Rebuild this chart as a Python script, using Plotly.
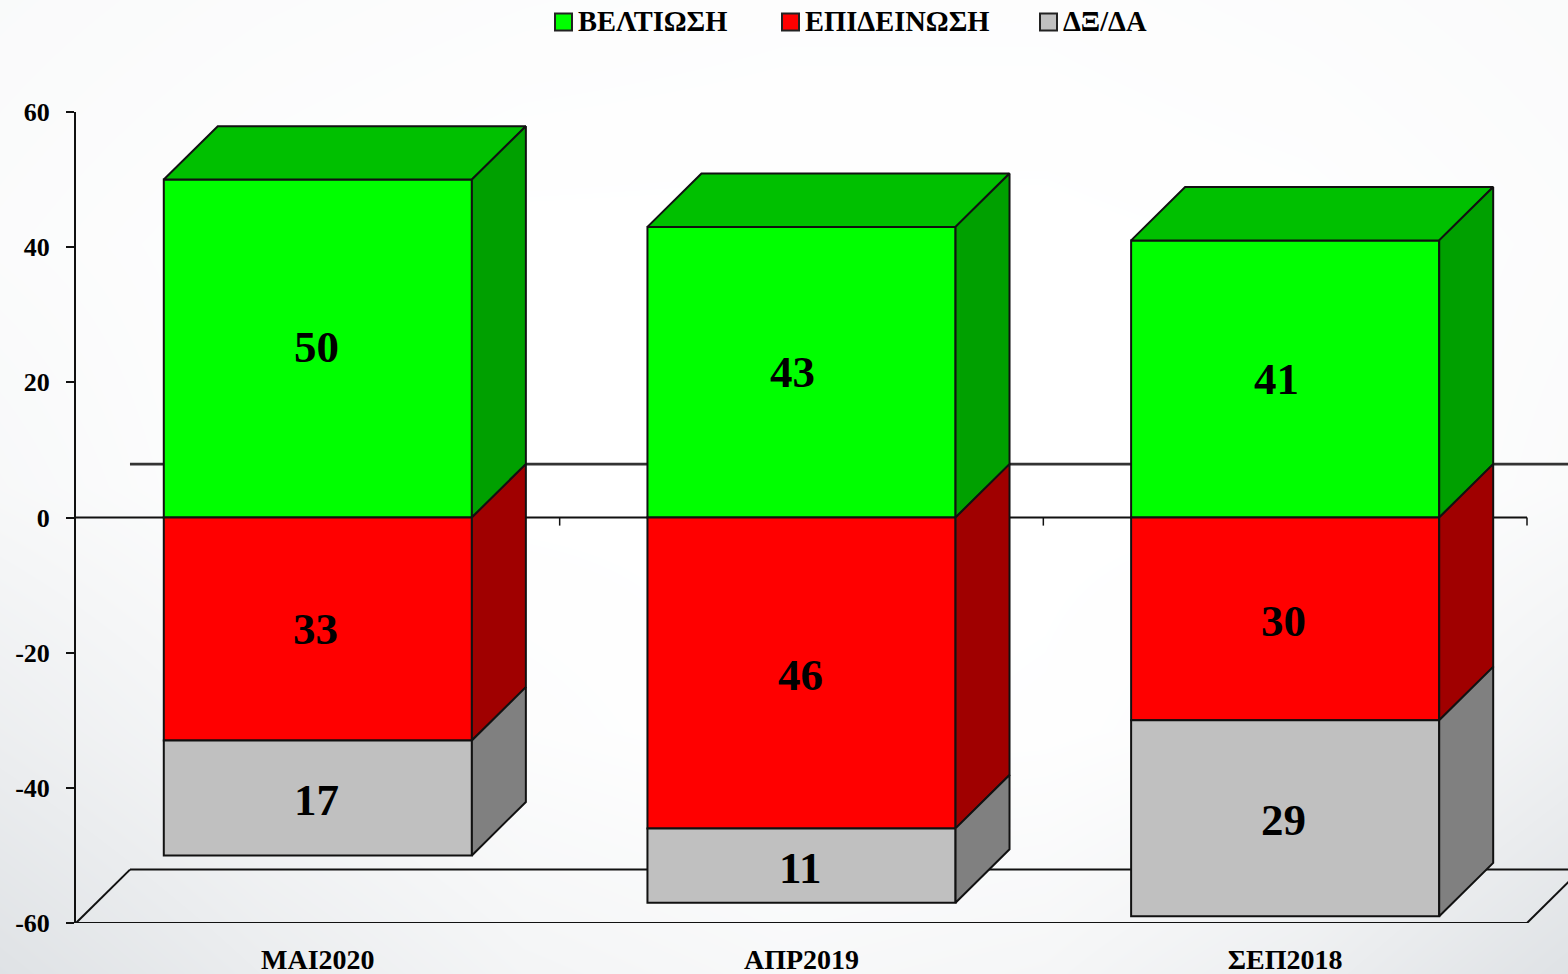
import plotly.graph_objects as go

W, H = 1568, 974
categories = ["ΜΑΙ2020", "ΑΠΡ2019", "ΣΕΠ2018"]
improve = [50, 43, 41]
worse = [33, 46, 30]
dk_na = [17, 11, 29]
y_ticks = [60, 40, 20, 0, -20, -40, -60]
label_xshift = {"improve": [-1, -9, -9], "worse": [-2, -1, -2], "dk_na": [-1, -1, -2]}
label_yshift = {"improve": [2, 0, 0], "worse": [0, -2, -2], "dk_na": [-2, -2, -2]}

bg_rows = [
    [0.86, 0.90, 0.93, 0.95, 0.95, 0.92, 0.88],
    [0.90, 0.96, 1.00, 1.00, 1.00, 0.98, 0.92],
    [0.82, 0.96, 1.00, 1.00, 1.00, 1.00, 0.88],
    [0.55, 0.78, 0.94, 1.00, 0.98, 0.90, 0.60],
    [0.22, 0.50, 0.72, 0.82, 0.76, 0.55, 0.22],
]

BAR_W = 0.637
DX, DY = 0.1116, 7.9
L, R0, T, B = 76, 1527, 112, 923
unit = (R0 - L) / 3
x_max = 2.5 + (W - R0) / unit
LINE = "#111111"
SERIF = "Liberation Serif"

fig = go.Figure()
fig.add_trace(go.Heatmap(z=bg_rows, x=[i / 6 for i in range(7)], y=[1, 0.75, 0.5, 0.25, 0],
                         colorscale=[[0, "#d6dade"], [1, "#ffffff"]], zmin=0, zmax=1,
                         zsmooth="best", showscale=False, hoverinfo="skip",
                         xaxis="x", yaxis="y", showlegend=False))

xs = [0, 1, 2]
series = [("ΒΕΛΤΙΩΣΗ", improve, 1, "#00ff00"),
          ("ΕΠΙΔΕΙΝΩΣΗ", worse, -1, "#ff0000"),
          ("ΔΞ/ΔΑ", dk_na, -1, "#c0c0c0")]
for name, vals, sign, col in series:
    fig.add_trace(go.Bar(x=xs, y=[sign * v for v in vals], name=name, width=BAR_W,
                         marker=dict(color=col, line=dict(color=LINE, width=2)),
                         xaxis="x2", yaxis="y2", hoverinfo="skip", showlegend=False))


def poly_trace(polys, fill):
    px, py = [], []
    for p in polys:
        px += [a for a, _ in p] + [p[0][0], None]
        py += [b for _, b in p] + [p[0][1], None]
    fig.add_trace(go.Scatter(x=px, y=py, mode="lines", fill="toself", fillcolor=fill,
                             line=dict(color=LINE, width=2), showlegend=False,
                             xaxis="x2", yaxis="y2", hoverinfo="skip"))


def side(i, y0, y1):
    x1 = xs[i] + BAR_W / 2
    return [(x1, y0), (x1 + DX, y0 + DY), (x1 + DX, y1 + DY), (x1, y1)]


def top(i, y):
    x0, x1 = xs[i] - BAR_W / 2, xs[i] + BAR_W / 2
    return [(x0, y), (x0 + DX, y + DY), (x1 + DX, y + DY), (x1, y)]


poly_trace([top(i, improve[i]) for i in xs], "#00c000")
poly_trace([side(i, 0, improve[i]) for i in xs], "#00a000")
poly_trace([side(i, 0, -worse[i]) for i in xs], "#a00000")
poly_trace([side(i, -worse[i], -worse[i] - dk_na[i]) for i in xs], "#808080")

shapes = []


def seg(x0, y0, x1, y1, color=LINE, width=2):
    shapes.append(dict(type="line", xref="x2", yref="y2", x0=x0, y0=y0, x1=x1, y1=y1,
                       layer="below", line=dict(color=color, width=width)))


seg(-0.5, 0, 2.5, 0)
seg(-0.5 + DX, DY, x_max, DY, "#333333", 2.6)
seg(-0.5, -60, -0.5 + DX, -60 + DY)
seg(-0.5 + DX, -60 + DY, x_max, -60 + DY)
seg(-0.5, -60, 2.5, -60)
seg(2.5, -60, 2.5 + DX, -60 + DY)
for b in (0.5, 1.5, 2.5):
    seg(b, 0, b, -1.2, width=1.5)

annos = []
for i in xs:
    stack = [("improve", improve[i], improve[i] / 2),
             ("worse", worse[i], -worse[i] / 2),
             ("dk_na", dk_na[i], -worse[i] - dk_na[i] / 2)]
    for key, v, mid in stack:
        annos.append(dict(x=i, y=mid, xref="x2", yref="y2", text=str(v), showarrow=False,
                          xshift=label_xshift[key][i], yshift=label_yshift[key][i],
                          font=dict(family=SERIF, size=45, color="#000000", weight=700)))

# legend row, placed to match the reference's uneven spacing
legend_left = [555, 782, 1040]
SW, LEG_Y = 17, 22
for (name, _, _, col), left in zip(series, legend_left):
    shapes.append(dict(type="rect", xref="paper", yref="paper",
                       x0=left / W, x1=(left + SW) / W,
                       y0=1 - (LEG_Y + SW / 2) / H, y1=1 - (LEG_Y - SW / 2) / H,
                       fillcolor=col, line=dict(color="#222222", width=2)))
    annos.append(dict(x=(left + SW + 5) / W, y=1 - LEG_Y / H, xref="paper", yref="paper",
                      xanchor="left", yanchor="middle", xshift=-1, showarrow=False, text=name,
                      font=dict(family=SERIF, size=28.5, color="#000000", weight=700)))

fig.update_layout(
    width=W, height=H, autosize=False, margin=dict(l=0, r=0, t=0, b=0),
    paper_bgcolor="white", plot_bgcolor="rgba(0,0,0,0)", barmode="relative", bargap=0.363,
    shapes=shapes, annotations=annos, showlegend=False,
    xaxis=dict(domain=[0, 1], range=[0, 1], visible=False, fixedrange=True),
    yaxis=dict(domain=[0, 1], range=[0, 1], visible=False, fixedrange=True),
    xaxis2=dict(domain=[L / W, 1], range=[-0.5, x_max], anchor="y2", tickvals=xs,
                ticktext=categories, ticks="outside", ticklen=11, tickcolor="rgba(0,0,0,0)",
                showline=False, showgrid=False, zeroline=False, automargin=False,
                tickfont=dict(family=SERIF, size=28, color="#000000", weight=700)),
    yaxis2=dict(domain=[(H - B) / H, (H - T) / H], range=[-60, 60], anchor="x2",
                tickvals=y_ticks, ticktext=[str(t) for t in y_ticks], ticks="outside", ticklen=8,
                tickcolor=LINE, tickwidth=1.5, showline=True, linecolor=LINE, linewidth=2,
                ticklabelstandoff=11,
                showgrid=False, zeroline=False, automargin=False,
                tickfont=dict(family=SERIF, size=26, color="#000000", weight=700)),
)
fig.write_html("out.html", config={"displayModeBar": False},
               post_script="document.body.style.margin='0';document.body.style.overflow='hidden';")
